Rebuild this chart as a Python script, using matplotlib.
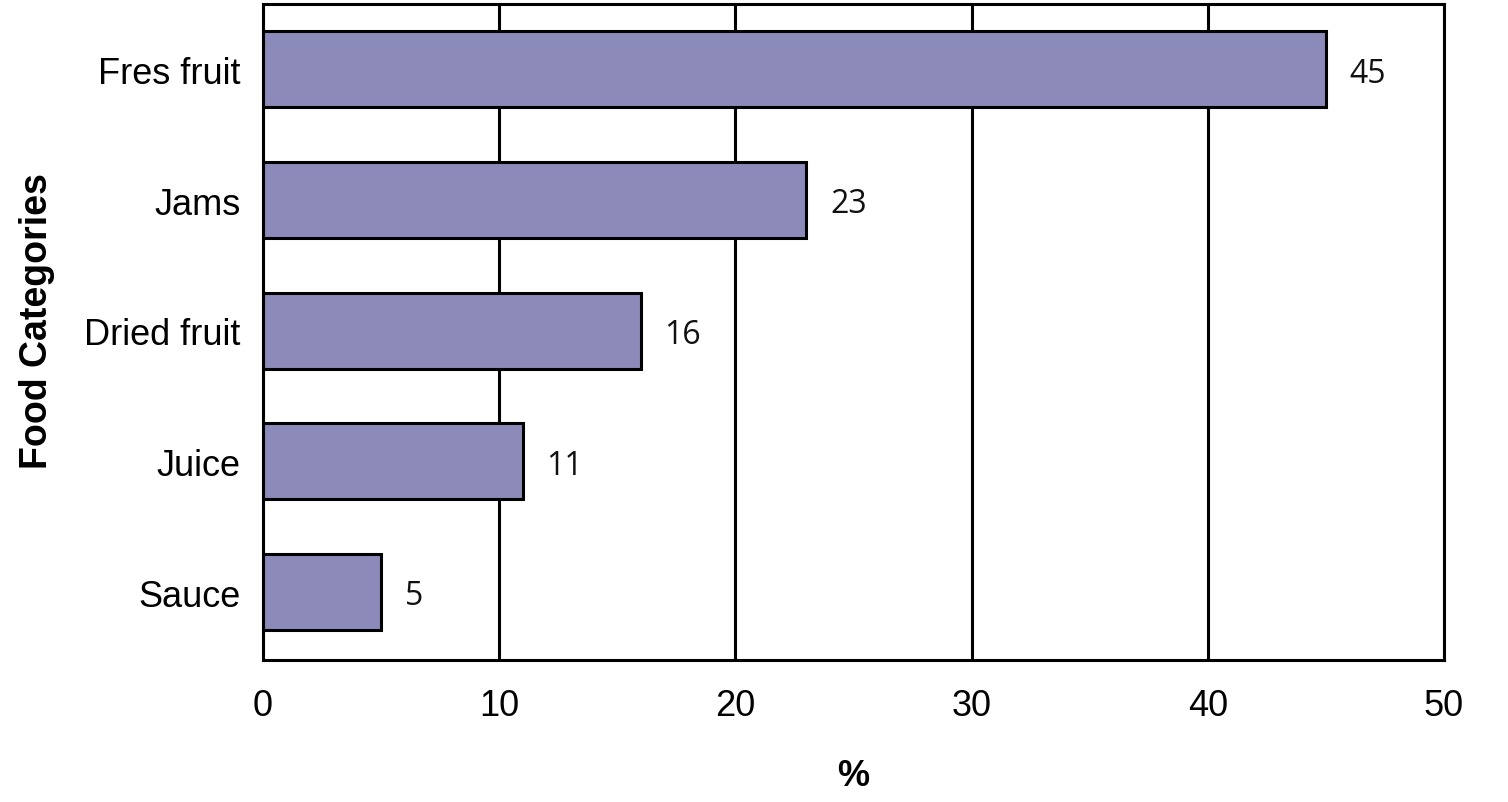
import matplotlib.pyplot as plt

# data
categories = ['Fres fruit', 'Jams', 'Dried fruit', 'Juice', 'Sauce']
values = [45, 23, 16, 11, 5]
xticks = [0, 10, 20, 30, 40, 50]

fig = plt.figure(figsize=(15.08, 8.03), dpi=100)
ax = fig.add_axes([0.1744, 0.1768, 0.7832, 0.8170])

ypos = list(range(len(categories)))[::-1]
ax.barh(ypos, values, height=0.58, color='#8b8ab9', edgecolor='black',
        linewidth=2.2, zorder=3)

# value labels next to bars
for y, v in zip(ypos, values):
    ax.text(v + 1.0, y - 0.03, str(v), va='center', ha='left',
            fontsize=23, family='Open Sans', color='#111111')

ax.set_xlim(0, 50)
ax.set_ylim(-0.52, 4.5)
ax.set_xticks(xticks)
ax.set_yticks(ypos)
ax.set_yticklabels(categories, family='Liberation Sans', fontsize=26)
ax.set_xticklabels([str(t) for t in xticks], family='Liberation Sans', fontsize=26)
ax.tick_params(axis='both', length=0)
ax.tick_params(axis='x', pad=20)
ax.tick_params(axis='y', pad=16)

ax.grid(axis='x', color='black', linewidth=2.2, zorder=0)
for s in ax.spines.values():
    s.set_linewidth(2.2)
    s.set_zorder(4)

ax.set_xlabel('%', family='Liberation Sans', fontsize=26, fontweight='bold')
ax.xaxis.set_label_coords(0.5, -0.15)
ax.set_ylabel('Food Categories', family='Liberation Sans', fontsize=27,
              fontweight='bold')
ax.yaxis.set_label_coords(-0.176, 0.518)

fig.savefig('out.png', dpi=100)
